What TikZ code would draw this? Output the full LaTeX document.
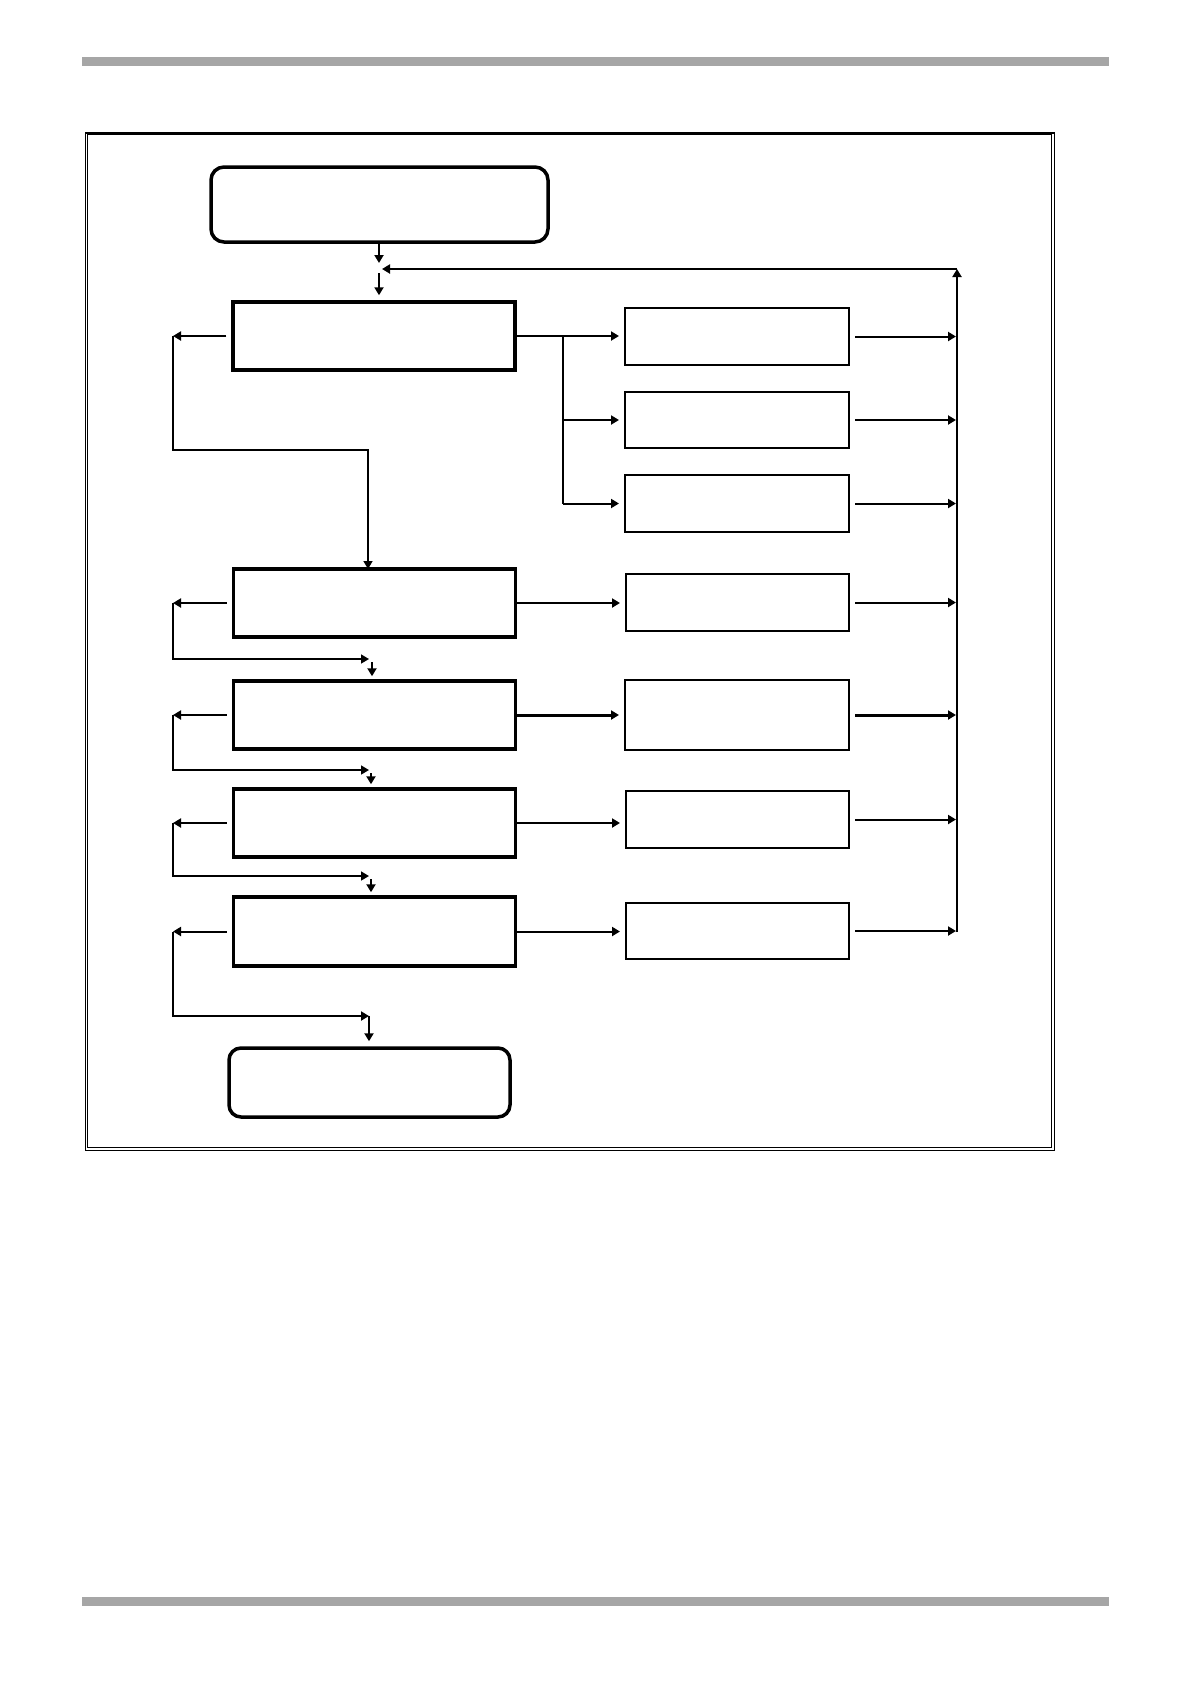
\documentclass[tikz,border=0pt]{standalone}
\usetikzlibrary{arrows.meta}
\definecolor{bargray}{HTML}{A6A6A6}
\tikzset{
  mainbox/.style={draw=black, line width=3.5pt, minimum width=282pt, minimum height=68pt, inner sep=0pt, fill=white},
  termbox/.style={draw=black, line width=3.5pt, rounded corners=13pt, inner sep=0pt, fill=white},
  sidebox/.style={draw=black, line width=2pt, minimum width=224pt, minimum height=57pt, inner sep=0pt, fill=white},
  conn/.style={line width=2pt, -{Triangle[length=8pt,width=9pt]}},
  plain/.style={line width=2pt},
  thinconn/.style={line width=1.6pt, -{Triangle[length=8pt,width=9pt]}},
}
\begin{document}
\begin{tikzpicture}[x=1pt,y=-1pt]
\useasboundingbox (0,0) rectangle (1190,1684);
% page bars
\fill[bargray] (82,57) rectangle (1109,66);
\fill[bargray] (82,1597) rectangle (1109,1606);
% frame
\draw[line width=0.8pt] (85,132) rectangle (1054,1150);
\draw[line width=0.8pt] (87.5,134.5) rectangle (1051.5,1147.5);
\draw[line width=2pt] (85,132.5) -- (1054,132.5);

% boxes
\node[termbox, minimum width=337pt, minimum height=75pt] (start) at (379.5,204.5) {};
\node[mainbox] (b1) at (374,336) {};
\node[mainbox] (b2) at (374.5,603) {};
\node[mainbox] (b3) at (374.5,715) {};
\node[mainbox] (b4) at (374.5,823) {};
\node[mainbox, minimum height=69pt] (b5) at (374.5,931.5) {};
\node[termbox, minimum width=281pt, minimum height=69pt, rounded corners=12pt] (end) at (369.5,1082.5) {};

\node[sidebox] (sA) at (737,336.5) {};
\node[sidebox, minimum height=56pt] (sB) at (737,420) {};
\node[sidebox] (sC) at (737,503.5) {};
\node[sidebox, minimum width=223pt] (sD) at (737.5,602.5) {};
\node[sidebox, minimum height=70pt] (sE) at (737,715) {};
\node[sidebox, minimum width=223pt] (sF) at (737.5,819.5) {};
\node[sidebox, minimum width=223pt, minimum height=56pt] (sG) at (737.5,931) {};

% coordinates
\coordinate (j1) at (379,263);
\coordinate (j2) at (379,273);
\coordinate (j3) at (382,269);
\coordinate (spTop) at (957,269);
\coordinate (spBot) at (957,932);
\coordinate (br) at (563,336);
\coordinate (brB) at (563,420);
\coordinate (brC) at (563,503.5);
\coordinate (spX) at (956,0);
\coordinate (Lx) at (173,0);

\coordinate (L1b) at (173,450);
\coordinate (M1) at (368,450);
\coordinate (T2) at (368,569);
\coordinate (L2b) at (173,659);
\coordinate (M2) at (369,659);
\coordinate (D2) at (372,662);
\coordinate (L3b) at (173,770);
\coordinate (M3) at (369,770);
\coordinate (D3) at (371,773);
\coordinate (L4b) at (173,876);
\coordinate (M4) at (369,876);
\coordinate (D4) at (371,879);
\coordinate (L5b) at (173,1016);
\coordinate (M5) at (369,1016);

% entry and feedback
\draw[conn] (start.south -| j1) -- (j1);
\draw[conn, shorten >=5pt] (j2) -- (j2 |- b1.north);
\draw[conn] (spBot) -- (spTop);
\draw[conn] (spTop) -- (j3);

% first box branches
\draw[conn, shorten >=5pt] (b1.east) -- (b1.east -| sA.west);
\draw[plain] (br) -- (brC);
\draw[conn, shorten >=5pt] (brB) -- (brB -| sB.west);
\draw[conn, shorten >=5pt] (brC) -- (brC -| sC.west);
\draw[conn, shorten >=5pt] (b2.east) -- (b2.east -| sD.west);
\draw[conn, line width=3pt, shorten >=5pt] (b3.east) -- (b3.east -| sE.west);
\draw[conn, shorten >=5pt] (b4.east) -- (b4.east -| sF.west);
\draw[conn, shorten >=5pt] (b5.east) -- (b5.east -| sG.west);

% right arrows to spine
\draw[conn, shorten <=5pt] (sA.east) -- (sA.east -| spX);
\draw[conn, shorten <=5pt] (sB.east) -- (sB.east -| spX);
\draw[conn, shorten <=5pt] (sC.east) -- (sC.east -| spX);
\draw[conn, shorten <=5pt] (sD.east) -- (sD.east -| spX);
\draw[conn, line width=3pt, shorten <=5pt] (sE.east) -- (sE.east -| spX);
\draw[conn, shorten <=5pt] (sF.east) -- (sF.east -| spX);
\draw[conn, shorten <=5pt] (sG.east) -- (sG.east -| spX);

% left loops
\draw[conn, shorten <=5pt] (b1.west) -- (b1.west -| Lx);
\draw[thinconn] (b1.west -| Lx) -- (L1b) -- (M1) -- (T2);

\draw[conn, shorten <=5pt] (b2.west) -- (b2.west -| Lx);
\draw[thinconn] (b2.west -| Lx) -- (L2b) -- (M2);
\draw[conn, shorten >=3pt] (D2) -- (D2 |- b3.north);

\draw[conn, shorten <=5pt] (b3.west) -- (b3.west -| Lx);
\draw[thinconn] (b3.west -| Lx) -- (L3b) -- (M3);
\draw[conn, shorten >=3pt] (D3) -- (D3 |- b4.north);

\draw[conn, shorten <=5pt] (b4.west) -- (b4.west -| Lx);
\draw[thinconn] (b4.west -| Lx) -- (L4b) -- (M4);
\draw[conn, shorten >=3pt] (D4) -- (D4 |- b5.north);

\draw[conn, shorten <=5pt] (b5.west) -- (b5.west -| Lx);
\draw[conn] (b5.west -| Lx) -- (L5b) -- (M5);
\draw[conn, shorten >=5pt] (M5) -- (M5 |- end.north);
\end{tikzpicture}
\end{document}
